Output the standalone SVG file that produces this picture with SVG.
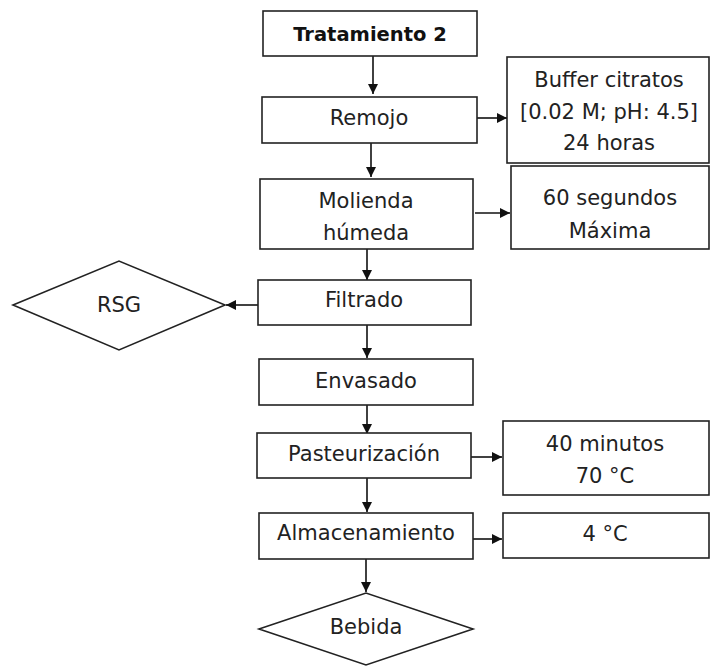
<svg xmlns="http://www.w3.org/2000/svg" width="710" height="666" viewBox="0 0 710 666">
  <defs>
    <marker id="arrow" viewBox="0 0 10 10" refX="10" refY="5" markerWidth="10" markerHeight="10" markerUnits="userSpaceOnUse" orient="auto">
      <path d="M0,0 L10,5 L0,10 z" fill="#111"/>
    </marker>
    <style>
      .box { fill: #fff; stroke: #222; stroke-width: 1.6; }
      .lbl { font-family: "DejaVu Sans", "Liberation Sans", sans-serif; font-size: 21px; fill: #222; text-anchor: middle; }
      .title { font-weight: bold; font-size: 19.5px; fill: #111; }
      .conn { stroke: #111; stroke-width: 1.6; fill: none; marker-end: url(#arrow); }
    </style>
  </defs>
  <rect width="710" height="666" fill="#fff"/>

  <g id="connectors">
    <line class="conn" x1="373" y1="56" x2="373" y2="94"/>
    <line class="conn" x1="371" y1="143" x2="371" y2="177"/>
    <line class="conn" x1="367" y1="249" x2="367" y2="280"/>
    <line class="conn" x1="367" y1="325" x2="367" y2="358"/>
    <line class="conn" x1="367" y1="405" x2="367" y2="434"/>
    <line class="conn" x1="367" y1="478" x2="367" y2="512"/>
    <line class="conn" x1="366" y1="559" x2="366" y2="592"/>
    <line class="conn" x1="477" y1="118" x2="507" y2="118"/>
    <line class="conn" x1="475" y1="213" x2="510" y2="213"/>
    <line class="conn" x1="258" y1="305" x2="226" y2="305"/>
    <line class="conn" x1="471" y1="457" x2="502" y2="457"/>
    <line class="conn" x1="473" y1="539" x2="502" y2="539"/>
  </g>

  <g id="tratamiento">
    <rect class="box" x="263" y="11" width="214" height="45"/>
    <text class="lbl title" x="370" y="41">Tratamiento 2</text>
  </g>

  <g id="remojo">
    <rect class="box" x="262" y="97" width="215" height="46"/>
    <text class="lbl" x="369" y="125">Remojo</text>
  </g>

  <g id="buffer">
    <rect class="box" x="507" y="57" width="202" height="106"/>
    <text class="lbl" x="609" y="87">Buffer citratos</text>
    <text class="lbl" x="609" y="119">[0.02 M; pH: 4.5]</text>
    <text class="lbl" x="609" y="150">24 horas</text>
  </g>

  <g id="molienda">
    <rect class="box" x="260" y="179" width="213" height="70"/>
    <text class="lbl" x="366" y="208">Molienda</text>
    <text class="lbl" x="366" y="240">húmeda</text>
  </g>

  <g id="segundos">
    <rect class="box" x="511" y="166" width="198" height="83"/>
    <text class="lbl" x="610" y="205">60 segundos</text>
    <text class="lbl" x="610" y="238">Máxima</text>
  </g>

  <g id="filtrado">
    <rect class="box" x="258" y="280" width="213" height="45"/>
    <text class="lbl" x="364" y="307">Filtrado</text>
  </g>

  <g id="rsg">
    <polygon class="box" points="13,305 119,261 225,305 119,350"/>
    <text class="lbl" x="119" y="312">RSG</text>
  </g>

  <g id="envasado">
    <rect class="box" x="259" y="359" width="214" height="46"/>
    <text class="lbl" x="366" y="388">Envasado</text>
  </g>

  <g id="pasteurizacion">
    <rect class="box" x="257" y="433" width="214" height="45"/>
    <text class="lbl" x="364" y="461">Pasteurización</text>
  </g>

  <g id="minutos">
    <rect class="box" x="503" y="421" width="206" height="74"/>
    <text class="lbl" x="605" y="451">40 minutos</text>
    <text class="lbl" x="605" y="483">70 °C</text>
  </g>

  <g id="almacenamiento">
    <rect class="box" x="259" y="513" width="214" height="46"/>
    <text class="lbl" x="366" y="540">Almacenamiento</text>
  </g>

  <g id="refrigeracion">
    <rect class="box" x="503" y="513" width="206" height="45"/>
    <text class="lbl" x="605" y="541">4 °C</text>
  </g>

  <g id="bebida">
    <polygon class="box" points="259,629 366,593 473,629 366,665"/>
    <text class="lbl" x="366" y="634">Bebida</text>
  </g>
</svg>
